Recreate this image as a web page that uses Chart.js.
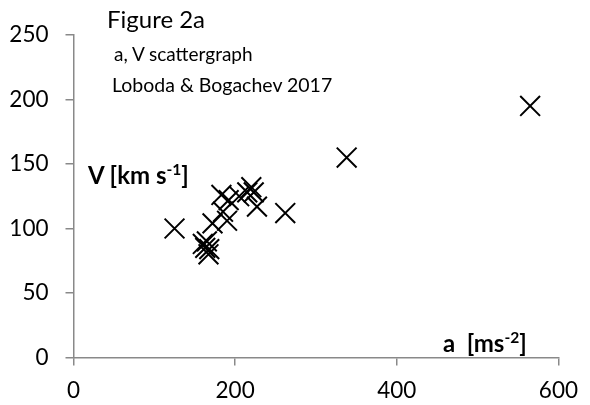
<!DOCTYPE html>
<html>
<head>
<meta charset="utf-8">
<script src="https://cdn.jsdelivr.net/npm/chart.js@4/dist/chart.umd.min.js"></script>
<style>
  html, body { margin: 0; padding: 0; background: #ffffff; }
  #wrap { position: relative; width: 590px; height: 405px; overflow: hidden; font-family: Lato, "Open Sans", sans-serif; color: #000; }
  #c { position: absolute; left: 0; top: 0; }
  .lbl { position: absolute; white-space: pre; line-height: 1; }
  .lbl sup { font-size: 0.65em; vertical-align: 0.55em; }
</style>
</head>
<body>
<div id="wrap">
  <canvas id="c" width="590" height="405"></canvas>
  <div class="lbl" style="left:107px; top:7px; font-size:24px;">Figure 2a</div>
  <div class="lbl" style="left:114px; top:44px; font-size:19px;">a, V scattergraph</div>
  <div class="lbl" style="left:112px; top:75px; font-size:19.5px;">Loboda &amp; Bogachev 2017</div>
  <div class="lbl" style="left:88px; top:162px; font-size:24px; font-weight:bold;">V [km s<sup>-1</sup>]</div>
  <div class="lbl" style="left:443px; top:330px; font-size:24px; font-weight:bold;">a  [ms<sup>-2</sup>]</div>
</div>
<script>
// Data
const aValues = [125, 160, 163, 165, 167, 168, 172, 183, 185, 190, 192, 205, 215, 220, 223, 227, 262, 338, 565];
const vValues = [100, 88, 85, 90, 80, 84, 104, 126, 113, 106, 122, 125, 128, 132, 128, 117, 112, 155, 195];
const xTicks = [0, 200, 400, 600];
const yTicks = [0, 50, 100, 150, 200, 250];

const points = aValues.map((a, i) => ({ x: a, y: vValues[i] }));
const axisGray = '#898989';

new Chart(document.getElementById('c'), {
  type: 'scatter',
  data: {
    datasets: [{
      data: points,
      pointStyle: 'crossRot',
      pointRadius: 14,
      pointHoverRadius: 14,
      borderColor: '#000000',
      backgroundColor: '#000000',
      pointBorderWidth: 2,
      borderWidth: 2
    }]
  },
  options: {
    responsive: false,
    animation: false,
    events: [],
    layout: { padding: { left: 0, right: 23, top: 35, bottom: 0 } },
    plugins: { legend: { display: false }, tooltip: { enabled: false }, title: { display: false } },
    scales: {
      x: {
        type: 'linear',
        min: xTicks[0],
        max: xTicks[xTicks.length - 1],
        afterBuildTicks: (s) => { s.ticks = xTicks.map(v => ({ value: v })); },
        afterFit: (s) => { s.height = 47.5; },
        ticks: { color: '#000', padding: 12, font: { family: 'Lato', size: 22.5 }, maxRotation: 0 },
        grid: { drawOnChartArea: false, color: axisGray, lineWidth: 1.5, tickLength: 8 },
        border: { color: axisGray, width: 1.5 }
      },
      y: {
        type: 'linear',
        min: yTicks[0],
        max: yTicks[yTicks.length - 1],
        afterBuildTicks: (s) => { s.ticks = yTicks.map(v => ({ value: v })); },
        afterFit: (s) => { s.width = 73.5; },
        ticks: { color: '#000', padding: 17, font: { family: 'Lato', size: 22.5 } },
        grid: { drawOnChartArea: false, color: axisGray, lineWidth: 1.5, tickLength: 8 },
        border: { color: axisGray, width: 1.5 }
      }
    }
  }
});
</script>
</body>
</html>
